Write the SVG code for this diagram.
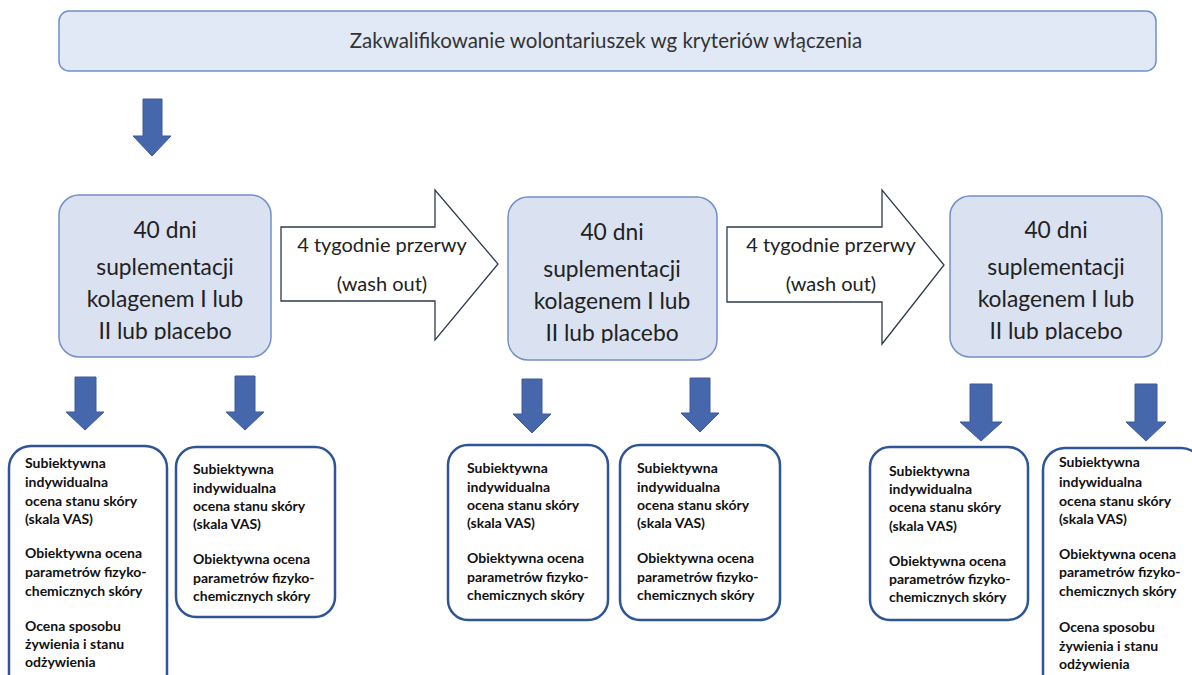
<svg xmlns="http://www.w3.org/2000/svg" width="1192" height="675" viewBox="0 0 1192 675">
<style>
.top{fill:#e0e9f5;stroke:#6f8fca;stroke-width:1.5}
.mid{fill:#dae1f1;stroke:#7390c8;stroke-width:1.5}
.bot{fill:#ffffff;stroke:#2f5597;stroke-width:2.5}
.dn{fill:#4767ad;stroke:#3f5a9a;stroke-width:1}
.blk{fill:#ffffff;stroke:#2e3a4f;stroke-width:1.3}
.tt{font-family:Lato,"Liberation Sans",sans-serif;font-size:20.5px;fill:#333333;text-anchor:middle}
.mt{font-family:Lato,"Liberation Sans",sans-serif;font-size:22.8px;fill:#222222;text-anchor:middle}
.at{font-family:Lato,"Liberation Sans",sans-serif;font-size:20px;fill:#222222;text-anchor:middle}
.bt{font-family:Lato,"Liberation Sans",sans-serif;font-size:14px;font-weight:bold;fill:#111111}
</style>
<defs>
<clipPath id="c1"><rect x="55" y="190" width="220" height="150"/></clipPath>
<clipPath id="c2"><rect x="503" y="190" width="220" height="153"/></clipPath>
<clipPath id="c3"><rect x="945" y="190" width="220" height="150"/></clipPath>
</defs>

<g id="top-node">
<rect class="top" x="59" y="11" width="1097" height="60" rx="10"/>
<text class="tt" x="606" y="48">Zakwalifikowanie wolontariuszek wg kryteriów włączenia</text>
</g>

<g id="connectors">
<path class="dn" d="M143,99 H162 V136 H171 L152,156 L133,136 H143 Z"/>
<path class="dn" d="M75,377 H96 V412 H104 L85,430 L66,412 H75 Z"/>
<path class="dn" d="M235,376 H255 V412 H264 L245,430 L226,412 H235 Z"/>
<path class="dn" d="M522,379 H542 V414 H551 L532,433 L513,414 H522 Z"/>
<path class="dn" d="M690,378 H710 V413 H719 L700,432 L681,413 H690 Z"/>
<path class="dn" d="M970,384 H992 V422 H1002 L981,441 L960,422 H970 Z"/>
<path class="dn" d="M1135,384 H1157 V422 H1166 L1146,441 L1126,422 H1135 Z"/>
<g id="washout-1">
<path class="blk" d="M281,227 H435 V190 L498,264 L435,340 V301 H281 Z"/>
<text class="at" x="382" y="252">4 tygodnie przerwy</text>
<text class="at" x="382" y="291">(wash out)</text>
</g>
<g id="washout-2">
<path class="blk" d="M727,227 H882 V190 L944,265 L882,344 V302 H727 Z"/>
<text class="at" x="831" y="252">4 tygodnie przerwy</text>
<text class="at" x="831" y="291">(wash out)</text>
</g>
</g>

<g id="phase-1">
<rect class="mid" x="59" y="195" width="212" height="162" rx="20"/>
<g clip-path="url(#c1)">
<text class="mt" x="165" y="238">40 dni</text>
<text class="mt" x="165" y="275">suplementacji</text>
<text class="mt" x="165" y="307">kolagenem I lub</text>
<text class="mt" x="165" y="339">II lub placebo</text>
</g>
</g>
<g id="phase-2">
<rect class="mid" x="508" y="197" width="209" height="163" rx="20"/>
<g clip-path="url(#c2)">
<text class="mt" x="612" y="240">40 dni</text>
<text class="mt" x="612" y="277">suplementacji</text>
<text class="mt" x="612" y="309">kolagenem I lub</text>
<text class="mt" x="612" y="341">II lub placebo</text>
</g>
</g>
<g id="phase-3">
<rect class="mid" x="950" y="196" width="212" height="161" rx="20"/>
<g clip-path="url(#c3)">
<text class="mt" x="1056" y="238">40 dni</text>
<text class="mt" x="1056" y="275">suplementacji</text>
<text class="mt" x="1056" y="307">kolagenem I lub</text>
<text class="mt" x="1056" y="339">II lub placebo</text>
</g>
</g>

<g id="eval-1">
<rect class="bot" x="9" y="446" width="158" height="250" rx="22"/>
<text class="bt" x="25" y="468">Subiektywna</text>
<text class="bt" x="25" y="487">indywidualna</text>
<text class="bt" x="25" y="506">ocena stanu skóry</text>
<text class="bt" x="25" y="524">(skala VAS)</text>
<text class="bt" x="25" y="558">Obiektywna ocena</text>
<text class="bt" x="25" y="577">parametrów fizyko-</text>
<text class="bt" x="25" y="596">chemicznych skóry</text>
<text class="bt" x="25" y="631">Ocena sposobu</text>
<text class="bt" x="25" y="649">żywienia i stanu</text>
<text class="bt" x="25" y="667">odżywienia</text>
</g>
<g id="eval-2">
<rect class="bot" x="176" y="447" width="159" height="170" rx="20"/>
<text class="bt" x="193" y="474">Subiektywna</text>
<text class="bt" x="193" y="493">indywidualna</text>
<text class="bt" x="193" y="511">ocena stanu skóry</text>
<text class="bt" x="193" y="529">(skala VAS)</text>
<text class="bt" x="193" y="564">Obiektywna ocena</text>
<text class="bt" x="193" y="583">parametrów fizyko-</text>
<text class="bt" x="193" y="601">chemicznych skóry</text>
</g>
<g id="eval-3">
<rect class="bot" x="448" y="445" width="160" height="175" rx="20"/>
<text class="bt" x="467" y="473">Subiektywna</text>
<text class="bt" x="467" y="492">indywidualna</text>
<text class="bt" x="467" y="510">ocena stanu skóry</text>
<text class="bt" x="467" y="528">(skala VAS)</text>
<text class="bt" x="467" y="563">Obiektywna ocena</text>
<text class="bt" x="467" y="582">parametrów fizyko-</text>
<text class="bt" x="467" y="600">chemicznych skóry</text>
</g>
<g id="eval-4">
<rect class="bot" x="620" y="445" width="160" height="175" rx="20"/>
<text class="bt" x="637" y="473">Subiektywna</text>
<text class="bt" x="637" y="492">indywidualna</text>
<text class="bt" x="637" y="510">ocena stanu skóry</text>
<text class="bt" x="637" y="528">(skala VAS)</text>
<text class="bt" x="637" y="563">Obiektywna ocena</text>
<text class="bt" x="637" y="582">parametrów fizyko-</text>
<text class="bt" x="637" y="600">chemicznych skóry</text>
</g>
<g id="eval-5">
<rect class="bot" x="870" y="447" width="158" height="173" rx="20"/>
<text class="bt" x="889" y="476">Subiektywna</text>
<text class="bt" x="889" y="494">indywidualna</text>
<text class="bt" x="889" y="512">ocena stanu skóry</text>
<text class="bt" x="889" y="531">(skala VAS)</text>
<text class="bt" x="889" y="566">Obiektywna ocena</text>
<text class="bt" x="889" y="584">parametrów fizyko-</text>
<text class="bt" x="889" y="602">chemicznych skóry</text>
</g>
<g id="eval-6">
<rect class="bot" x="1043" y="448" width="160" height="250" rx="22"/>
<text class="bt" x="1059" y="467">Subiektywna</text>
<text class="bt" x="1059" y="487">indywidualna</text>
<text class="bt" x="1059" y="506">ocena stanu skóry</text>
<text class="bt" x="1059" y="524">(skala VAS)</text>
<text class="bt" x="1059" y="559">Obiektywna ocena</text>
<text class="bt" x="1059" y="577">parametrów fizyko-</text>
<text class="bt" x="1059" y="596">chemicznych skóry</text>
<text class="bt" x="1059" y="632">Ocena sposobu</text>
<text class="bt" x="1059" y="651">żywienia i stanu</text>
<text class="bt" x="1059" y="669">odżywienia</text>
</g>
</svg>
